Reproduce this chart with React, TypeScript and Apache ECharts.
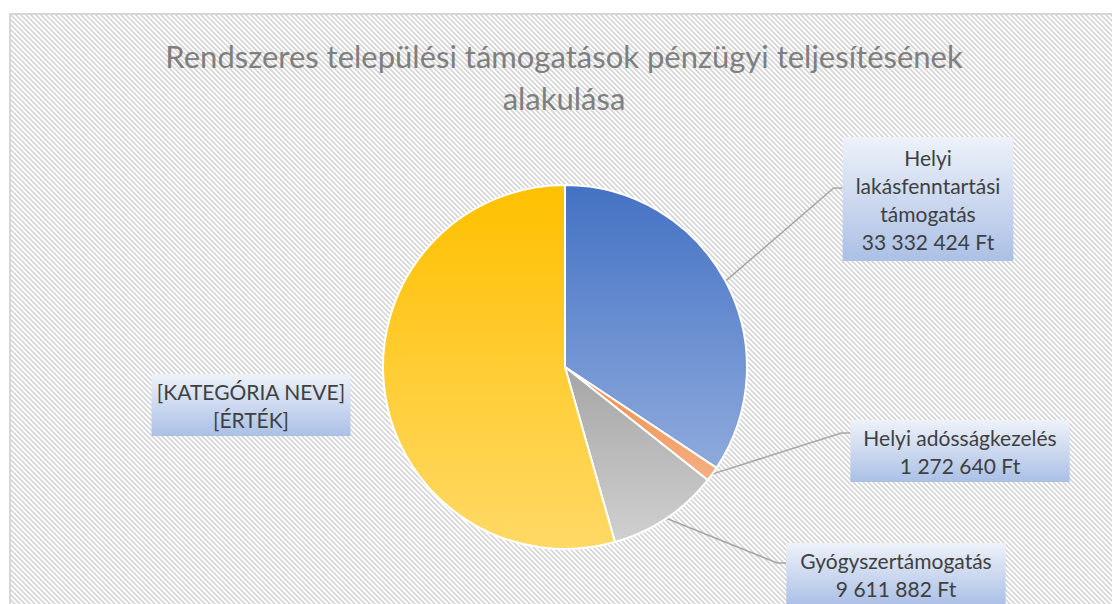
import React, { useEffect, useRef } from 'react';
import * as echarts from 'echarts';

const titleText = 'Rendszeres települési támogatások pénzügyi teljesítésének\nalakulása';
const categories = [
  'Helyi lakásfenntartási támogatás',
  'Helyi adósságkezelés',
  'Gyógyszertámogatás',
  '[KATEGÓRIA NEVE]',
];
const values = [33332424, 1272640, 9611882, 52800000];
// the last label shows the placeholder text of the source chart
const valueTexts = ['', '', '', '[ÉRTÉK]'];
// names that the source wraps word by word
const wrapWords = [true, false, false, false];

const sliceColors = [
  ['#4472c4', '#8eaadc'],
  ['#ef8a45', '#f4b183'],
  ['#a5a5a5', '#d0d0d0'],
  ['#ffc000', '#ffd966'],
];

function fmt(v: number): string {
  return String(v).replace(/\B(?=(\d{3})+(?!\d))/g, ' ') + ' Ft';
}

const hatch =
  "url(\"data:image/svg+xml;utf8,<svg xmlns='http://www.w3.org/2000/svg' width='5' height='5'><path d='M-1,-1 L6,6 M-1,4 L1,6 M4,-1 L6,1' stroke='%23d6d6d6' stroke-width='1.7'/></svg>\")";

export default function App() {
  const ref = useRef<HTMLDivElement>(null);
  useEffect(() => {
    if (!ref.current) return;
    const chart = echarts.init(ref.current, null, { renderer: 'svg' });
    const boxes = [
      { cx: 928, cy: 199, ly: -11, pad: [6, 13] },
      { cx: 960, cy: 451, ly: -18, pad: [3, 13] },
      { cx: 896, cy: 574, ly: -11, pad: [3, 14] },
      { cx: 251, cy: 405, ly: 0, pad: [3, 5] },
    ];
    const labelBg = new echarts.graphic.LinearGradient(0, 0, 0, 1, [
      { offset: 0, color: '#eef2f9' },
      { offset: 1, color: '#abc0e6' },
    ]);
    chart.setOption({
      animation: false,
      title: {
        text: titleText,
        left: 564,
        top: 35,
        padding: 0,
        textAlign: 'center',
        textStyle: {
          fontFamily: 'Lato',
          fontSize: 31,
          lineHeight: 42,
          fontWeight: 'normal',
          color: '#7f7f7f',
        },
      },
      series: [
        {
          type: 'pie',
          center: [565, 367],
          radius: 182,
          startAngle: 90,
          clockwise: true,
          avoidLabelOverlap: false,
          itemStyle: { borderColor: '#ffffff', borderWidth: 2 },
          data: categories.map((name, i) => ({
            name,
            value: values[i],
            itemStyle: {
              color: new echarts.graphic.LinearGradient(0, 0, 0, 1, [
                { offset: 0, color: sliceColors[i][0] },
                { offset: 1, color: sliceColors[i][1] },
              ]),
            },
            label: { padding: boxes[i].pad },
            labelLine: i === 3 ? { show: false } : undefined,
          })),
          label: {
            show: true,
            position: 'outside',
            formatter: (p: any) => {
              const n = wrapWords[p.dataIndex] ? p.name.split(' ').join('\n') : p.name;
              return n + '\n' + (valueTexts[p.dataIndex] || fmt(p.value));
            },
            fontFamily: 'Lato',
            fontSize: 21,
            lineHeight: 28,
            color: '#404040',
            backgroundColor: labelBg,
            align: 'center',
          },
          labelLine: {
            show: true,
            lineStyle: { color: '#a6a6a6', width: 1.5 },
          },
          labelLayout: (params: any) => {
            const b = boxes[params.dataIndex];
            const w = params.labelRect.width;
            const res: any = { x: b.cx, y: b.cy, align: 'center', verticalAlign: 'middle' };
            if (params.labelLinePoints && params.dataIndex !== 3) {
              const p0 = params.labelLinePoints[0];
              const ex = b.cx - w / 2;
              const ey = b.cy + b.ly;
              res.labelLinePoints = [p0, [ex - 9, ey], [ex, ey]];
            }
            return res;
          },
        },
      ],
    });
    return () => chart.dispose();
  }, []);

  return (
    <div
      style={{
        position: 'fixed',
        left: 0,
        top: 0,
        width: 1112,
        height: 604,
        overflow: 'hidden',
        background: '#ffffff',
      }}
    >
      <div
        style={{
          position: 'absolute',
          left: 9,
          top: 13,
          width: 1130,
          height: 620,
          boxSizing: 'border-box',
          border: '2px solid #d6d6d6',
          backgroundColor: '#ffffff',
          backgroundImage: hatch,
          backgroundRepeat: 'repeat',
        }}
      />
      <div ref={ref} style={{ position: 'absolute', left: 0, top: 0, width: 1112, height: 604 }} />
    </div>
  );
}
